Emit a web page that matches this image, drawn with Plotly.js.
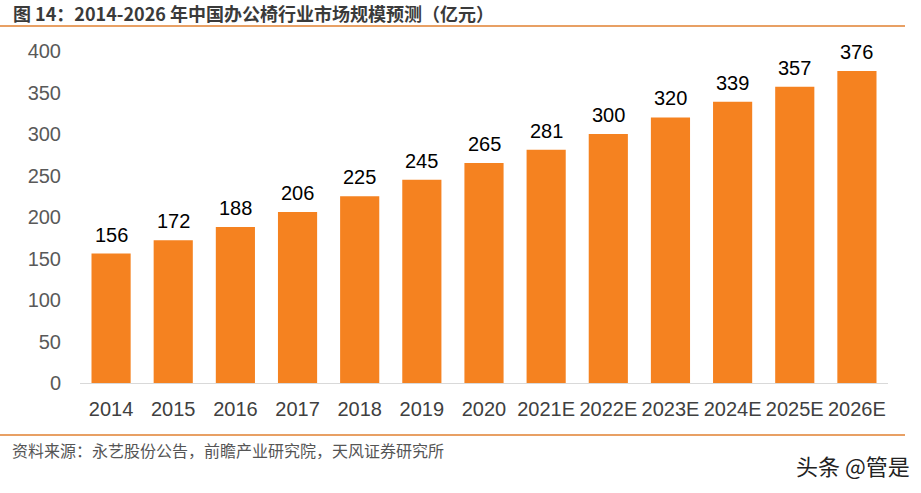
<!DOCTYPE html>
<html><head><meta charset="utf-8">
<script src="https://cdn.plot.ly/plotly-3.0.1.min.js"></script>
<style>body{margin:0;padding:0;background:#fff}#chart{width:921px;height:493px}</style>
</head><body><div id="chart"></div>
<script>
const categories = ["2014","2015","2016","2017","2018","2019","2020","2021E","2022E","2023E","2024E","2025E","2026E"];
const values = [156,172,188,206,225,245,265,281,300,320,339,357,376];
const yTicks = [0,50,100,150,200,250,300,350,400];

const L=80, R=888, T=51, B=383, W=921, H=493;
const px = x => (x - L)/(R - L);
const py = y => (B - y)/(B - T);

const data = [{
  type:'bar', x:categories, y:values,
  marker:{color:'#F58220'},
  hoverinfo:'none'
}];
// category axis: annotation x uses the category's serial index
const labelAnns = categories.map((c,i) => ({
  x:i, y:values[i], xref:'x', yref:'y', text:String(values[i]), showarrow:false,
  xanchor:'center', yanchor:'bottom', yshift:6,
  font:{family:'Liberation Sans, Arial, sans-serif', size:20, color:'#000'}
}));
const layout = {
  width:W, height:H, margin:{l:L, r:W-R, t:T, b:H-B},
  paper_bgcolor:'#fff', plot_bgcolor:'#fff', showlegend:false, bargap:0.37,
  font:{family:'Liberation Sans, Arial, sans-serif'},
  xaxis:{type:'category', range:[-0.5, categories.length-0.5], showgrid:false, zeroline:false, showline:true, linecolor:'#D9D9D9', linewidth:1,
    ticks:'', ticklabelstandoff:8, tickfont:{size:20, color:'#404040'}, fixedrange:true},
  yaxis:{range:[0,400], tickvals:yTicks, showgrid:false, zeroline:false, showline:false,
    ticks:'', ticklabelstandoff:18, tickfont:{size:20, color:'#595959'}, fixedrange:true},
  shapes:[
    {type:'line', xref:'paper', yref:'paper', x0:px(0), x1:px(905), y0:py(26), y1:py(26), line:{color:'#E8A064', width:2}},
    {type:'line', xref:'paper', yref:'paper', x0:px(0), x1:px(905), y0:py(435), y1:py(435), line:{color:'#E8A064', width:2}}
  ],
  annotations:labelAnns.concat([
    {xref:'paper', yref:'paper', x:px(11), y:py(13), xanchor:'left', yanchor:'middle', showarrow:false,
     text:'<b>图 14：2014-2026 年中国办公椅行业市场规模预测（亿元）</b>',
     font:{family:'Noto Sans CJK SC, sans-serif', size:18, color:'#3a3a3a'}},
    {xref:'paper', yref:'paper', x:px(10), y:py(450), xanchor:'left', yanchor:'middle', showarrow:false,
     text:'资料来源：永艺股份公告，前瞻产业研究院，天风证券研究所',
     font:{family:'Noto Sans CJK SC, sans-serif', size:16, color:'#555'}},
    {xref:'paper', yref:'paper', x:px(912), y:py(465), xanchor:'right', yanchor:'middle', showarrow:false,
     text:'头条 @管是',
     font:{family:'Noto Sans CJK SC, sans-serif', size:22, color:'#222'}}
  ])
};
Plotly.newPlot('chart', data, layout, {displayModeBar:false, staticPlot:true});
</script></body></html>
